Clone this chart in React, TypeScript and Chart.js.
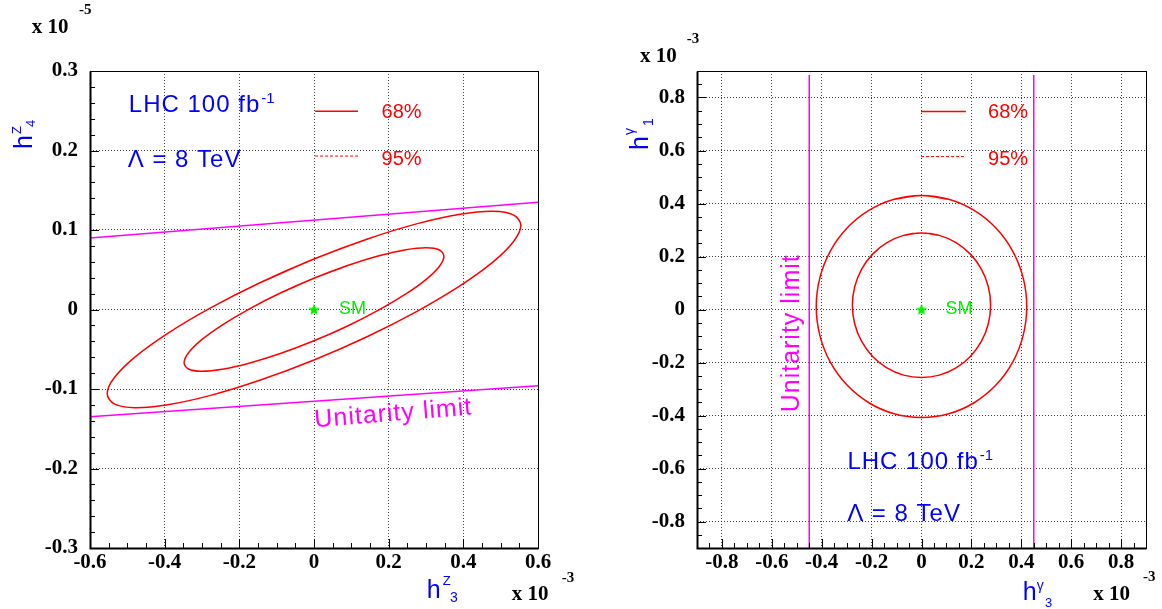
import React, { useEffect, useRef } from "react";
import { Chart, registerables } from "chart.js";

Chart.register(...registerables);

// ---------------- Left panel: h^Z_3 (x 10^-3) vs h^Z_4 (x 10^-5) ----------------
const leftXTickValues = [-0.6, -0.4, -0.2, 0, 0.2, 0.4, 0.6];
const leftXTickLabels = ["-0.6", "-0.4", "-0.2", "0", "0.2", "0.4", "0.6"];
const leftYTickValues = [-0.3, -0.2, -0.1, 0, 0.1, 0.2, 0.3];
const leftYTickLabels = ["-0.3", "-0.2", "-0.1", "0", "0.1", "0.2", "0.3"];

// outer (95%) contour (closed loop; first/last point repeat for a smooth join)
const leftOuterX = [0.1434, 0, -0.1434, -0.277, -0.3917, -0.4798, -0.5351, -0.554, -0.5351, -0.4798, -0.3917, -0.277, -0.1434, 0, 0.1434, 0.277, 0.3917, 0.4798, 0.5351, 0.554, 0.5351, 0.4798, 0.3917, 0.277, 0.1434, 0, -0.1434];
const leftOuterY = [0.0887, 0.0635, 0.0339, 0.002, -0.03, -0.0599, -0.0859, -0.1059, -0.1187, -0.1235, -0.1198, -0.108, -0.0887, -0.0635, -0.0339, -0.002, 0.03, 0.0599, 0.0859, 0.1059, 0.1187, 0.1235, 0.1198, 0.108, 0.0887, 0.0635, 0.0339];

// inner (68%) contour
const leftInnerX = [0.0901, 0, -0.0901, -0.174, -0.2461, -0.3014, -0.3361, -0.348, -0.3361, -0.3014, -0.2461, -0.174, -0.0901, 0, 0.0901, 0.174, 0.2461, 0.3014, 0.3361, 0.348, 0.3361, 0.3014, 0.2461, 0.174, 0.0901, 0, -0.0901];
const leftInnerY = [0.0553, 0.0393, 0.0207, 0.0005, -0.0196, -0.0383, -0.0545, -0.067, -0.0749, -0.0777, -0.0752, -0.0675, -0.0553, -0.0393, -0.0207, -0.0005, 0.0196, 0.0383, 0.0545, 0.067, 0.0749, 0.0777, 0.0752, 0.0675, 0.0553, 0.0393, 0.0207];

// unitarity limits
const leftUnitUpperX = [-0.6, 0.6];
const leftUnitUpperY = [0.09, 0.135];
const leftUnitLowerX = [-0.6, 0.6];
const leftUnitLowerY = [-0.135, -0.096];

// ---------------- Right panel: h^gamma_3 (x 10^-3) vs h^gamma_1 (x 10^-3) ----------------
const rightXTickValues = [-0.8, -0.6, -0.4, -0.2, 0, 0.2, 0.4, 0.6, 0.8];
const rightXTickLabels = ["-0.8", "-0.6", "-0.4", "-0.2", "0", "0.2", "0.4", "0.6", "0.8"];
const rightYTickValues = [-0.8, -0.6, -0.4, -0.2, 0, 0.2, 0.4, 0.6, 0.8];
const rightYTickLabels = ["-0.8", "-0.6", "-0.4", "-0.2", "0", "0.2", "0.4", "0.6", "0.8"];

const rightOuterX = [0.1092, 0, -0.1092, -0.211, -0.2984, -0.3655, -0.4076, -0.422, -0.4076, -0.3655, -0.2984, -0.211, -0.1092, 0, 0.1092, 0.211, 0.2984, 0.3655, 0.4076, 0.422, 0.4076, 0.3655, 0.2984, 0.211, 0.1092, 0, -0.1092];
const rightOuterY = [0.4157, 0.43, 0.4157, 0.3739, 0.3073, 0.2205, 0.1194, 0.011, -0.0974, -0.1985, -0.2853, -0.3519, -0.3937, -0.408, -0.3937, -0.3519, -0.2853, -0.1985, -0.0974, 0.011, 0.1194, 0.2205, 0.3073, 0.3739, 0.4157, 0.43, 0.4157];

const rightInnerX = [0.0717, 0, -0.0717, -0.1385, -0.1959, -0.2399, -0.2676, -0.277, -0.2676, -0.2399, -0.1959, -0.1385, -0.0717, 0, 0.0717, 0.1385, 0.1959, 0.2399, 0.2676, 0.277, 0.2676, 0.2399, 0.1959, 0.1385, 0.0717, 0, -0.0717];
const rightInnerY = [0.2797, 0.289, 0.2797, 0.2524, 0.209, 0.1525, 0.0867, 0.016, -0.0547, -0.1205, -0.177, -0.2204, -0.2477, -0.257, -0.2477, -0.2204, -0.177, -0.1205, -0.0547, 0.016, 0.0867, 0.1525, 0.209, 0.2524, 0.2797, 0.289, 0.2797];

const rightUnitLeftX = [-0.45, -0.45];
const rightUnitLeftY = [-0.9, 0.885];
const rightUnitRightX = [0.45, 0.45];
const rightUnitRightY = [-0.9, 0.885];

// Standard Model point
const smX = [0];
const smY = [0];

// ---------------- styling ----------------
const BLUE = "#0000ff";
const RED = "#ff0000";
const MAGENTA = "#ff00ff";
const GREEN = "#00ee00";
const SANS = "'Liberation Sans', Arial, Helvetica, sans-serif";
const SERIF = "'Liberation Serif', 'Times New Roman', Times, serif";

function pts(xs: number[], ys: number[]) {
  return xs.map((x, i) => ({ x, y: ys[i] }));
}

function lineDs(label: string, xs: number[], ys: number[], color: string, tension: number) {
  return {
    label,
    data: pts(xs, ys),
    borderColor: color,
    backgroundColor: color,
    borderWidth: 1.5,
    pointRadius: 0,
    pointHoverRadius: 0,
    tension,
    fill: false,
    showLine: true,
  };
}

function makeStar(r: number, color: string) {
  const c = document.createElement("canvas");
  const s = Math.ceil(r * 2 + 2);
  c.width = s;
  c.height = s;
  const g = c.getContext("2d")!;
  g.fillStyle = color;
  g.beginPath();
  for (let i = 0; i < 10; i++) {
    const ang = -Math.PI / 2 + (i * Math.PI) / 5;
    const rr = i % 2 === 0 ? r : r * 0.45;
    g.lineTo(s / 2 + rr * Math.cos(ang), s / 2 + rr * Math.sin(ang) + 0.5);
  }
  g.closePath();
  g.fill();
  return c;
}

function smDs() {
  return {
    label: "SM",
    data: pts(smX, smY),
    showLine: false,
    pointStyle: makeStar(6, GREEN),
    pointRadius: 6,
    pointHoverRadius: 6,
    borderWidth: 0,
    borderColor: GREEN,
    backgroundColor: GREEN,
  };
}

type Opts = { bold?: boolean; serif?: boolean; spacing?: number; align?: CanvasTextAlign; baseline?: CanvasTextBaseline };

function put(ctx: CanvasRenderingContext2D, s: string, x: number, y: number, size: number, color: string, o: Opts = {}) {
  ctx.save();
  ctx.font = `${o.bold ? "bold " : ""}${size}px ${o.serif ? SERIF : SANS}`;
  ctx.fillStyle = color;
  ctx.textAlign = o.align || "left";
  ctx.textBaseline = o.baseline || "alphabetic";
  (ctx as any).letterSpacing = `${o.spacing || 0}px`;
  ctx.fillText(s, x, y);
  const w = ctx.measureText(s).width;
  ctx.restore();
  return w;
}

type Part = { s: string; u: number; v: number; size: number };
function rotatedTitle(ctx: CanvasRenderingContext2D, ox: number, oy: number, parts: Part[]) {
  ctx.save();
  ctx.translate(ox, oy);
  ctx.rotate(-Math.PI / 2);
  parts.forEach((p) => put(ctx, p.s, p.u, p.v, p.size, BLUE));
  ctx.restore();
}

function seg(ctx: CanvasRenderingContext2D, x0: number, y0: number, x1: number, y1: number, color: string, w: number, dash: number[]) {
  ctx.save();
  ctx.strokeStyle = color;
  ctx.lineWidth = w;
  ctx.setLineDash(dash);
  ctx.beginPath();
  ctx.moveTo(x0, y0);
  ctx.lineTo(x1, y1);
  ctx.stroke();
  ctx.restore();
}

type Panel = {
  key: string;
  left: number;
  width: number;
  height: number;
  xMin: number;
  xMax: number;
  yMin: number;
  yMax: number;
  xTicks: number[];
  xLabels: string[];
  yTicks: number[];
  yLabels: string[];
  xMinor: number;
  xMajor: number;
  yMinor: number;
  yMajor: number;
  padTop: number;
  padRight: number;
  yAxisWidth: number;
  xAxisHeight: number;
  datasets: () => any[];
  annotate: (chart: any) => void;
};

function drawFrameAndTicks(chart: any, p: Panel) {
  const { ctx, chartArea: a } = chart;
  const xs = chart.scales.x;
  const ys = chart.scales.y;
  ctx.save();
  ctx.strokeStyle = "#000";
  ctx.lineWidth = 1;
  ctx.setLineDash([]);
  const n0 = Math.ceil(p.xMin / p.xMinor - 1e-6);
  const n1 = Math.floor(p.xMax / p.xMinor + 1e-6);
  for (let i = n0; i <= n1; i++) {
    const v = i * p.xMinor;
    const r = v / p.xMajor;
    const major = Math.abs(r - Math.round(r)) < 1e-6;
    const x = Math.round(xs.getPixelForValue(v)) + 0.5;
    ctx.beginPath();
    ctx.moveTo(x, a.bottom);
    ctx.lineTo(x, a.bottom - (major ? 9 : 5));
    ctx.stroke();
  }
  const m0 = Math.ceil(p.yMin / p.yMinor - 1e-6);
  const m1 = Math.floor(p.yMax / p.yMinor + 1e-6);
  for (let i = m0; i <= m1; i++) {
    const v = i * p.yMinor;
    const r = v / p.yMajor;
    const major = Math.abs(r - Math.round(r)) < 1e-6;
    const y = Math.round(ys.getPixelForValue(v)) + 0.5;
    ctx.beginPath();
    ctx.moveTo(a.left, y);
    ctx.lineTo(a.left + (major ? 9 : 5), y);
    ctx.stroke();
  }
  const L = Math.round(a.left) + 0.5;
  const T = Math.round(a.top) + 0.5;
  const R = Math.round(a.right) + 0.5;
  const B = Math.round(a.bottom) + 0.5;
  ctx.strokeRect(L, T, R - L, B - T);
  ctx.lineWidth = 2;
  ctx.beginPath();
  ctx.moveTo(L, T);
  ctx.lineTo(L, B);
  ctx.lineTo(R, B);
  ctx.stroke();
  ctx.restore();
}

const leftPanel: Panel = {
  key: "left",
  left: 0,
  width: 581,
  height: 609,
  xMin: -0.6,
  xMax: 0.6,
  yMin: -0.3,
  yMax: 0.3,
  xTicks: leftXTickValues,
  xLabels: leftXTickLabels,
  yTicks: leftYTickValues,
  yLabels: leftYTickLabels,
  xMinor: 0.05,
  xMajor: 0.2,
  yMinor: 0.02,
  yMajor: 0.1,
  padTop: 71,
  padRight: 43,
  yAxisWidth: 90,
  xAxisHeight: 61,
  datasets: () => [
    lineDs("95%", leftOuterX, leftOuterY, RED, 0.34),
    lineDs("68%", leftInnerX, leftInnerY, RED, 0.34),
    lineDs("Unitarity limit (upper)", leftUnitUpperX, leftUnitUpperY, MAGENTA, 0),
    lineDs("Unitarity limit (lower)", leftUnitLowerX, leftUnitLowerY, MAGENTA, 0),
    smDs(),
  ],
  annotate: (chart: any) => {
    const ctx = chart.ctx as CanvasRenderingContext2D;
    const X = (v: number) => chart.scales.x.getPixelForValue(v);
    const Y = (v: number) => chart.scales.y.getPixelForValue(v);
    // LHC text
    const w = put(ctx, "LHC 100 fb", X(-0.496), Y(0.249), 24, BLUE, { spacing: 1 });
    put(ctx, "-1", X(-0.496) + w + 1, Y(0.249) - 9, 15, BLUE);
    put(ctx, "Λ = 8 TeV", X(-0.499), Y(0.1795), 24, BLUE, { spacing: 1 });
    // legend
    seg(ctx, X(0.003), Y(0.2494), X(0.118), Y(0.2494), RED, 1.5, []);
    put(ctx, "68%", X(0.181), Y(0.248), 20, RED, { baseline: "middle" });
    seg(ctx, X(0.003), Y(0.193), X(0.118), Y(0.193), RED, 1, [3, 2]);
    put(ctx, "95%", X(0.181), Y(0.189), 20, RED, { baseline: "middle" });
    // SM
    put(ctx, "SM", X(0) + 25, Y(0), 18, GREEN, { baseline: "middle" });
    // Unitarity limit label
    ctx.save();
    ctx.translate(X(0.003), Y(-0.148));
    ctx.rotate((-4.6 * Math.PI) / 180);
    put(ctx, "Unitarity limit", 0, 0, 25, MAGENTA, { spacing: 1 });
    ctx.restore();
    // exponent labels
    put(ctx, "x 10", 31.7, 33, 21, "#000", { bold: true, serif: true });
    put(ctx, "-5", 79, 13.5, 15, "#000", { bold: true, serif: true });
    put(ctx, "x 10", 511.7, 600, 21, "#000", { bold: true, serif: true });
    put(ctx, "-3", 561.7, 581.7, 15, "#000", { bold: true, serif: true });
    // axis titles
    rotatedTitle(ctx, 32, 149, [
      { s: "h", u: 0, v: 0, size: 25 },
      { s: "Z", u: 15, v: -11, size: 13 },
      { s: "4", u: 22, v: 3, size: 13 },
    ]);
    put(ctx, "h", 426.7, 598, 25, BLUE);
    put(ctx, "Z", 442.7, 585, 13, BLUE);
    put(ctx, "3", 450, 601.7, 14, BLUE);
  },
};

const RX = 581;
const rightPanel: Panel = {
  key: "right",
  left: RX,
  width: 581,
  height: 609,
  xMin: -0.9,
  xMax: 0.9,
  yMin: -0.9,
  yMax: 0.9,
  xTicks: rightXTickValues,
  xLabels: rightXTickLabels,
  yTicks: rightYTickValues,
  yLabels: rightYTickLabels,
  xMinor: 0.05,
  xMajor: 0.2,
  yMinor: 0.05,
  yMajor: 0.2,
  padTop: 71,
  padRight: 16,
  yAxisWidth: 116,
  xAxisHeight: 61,
  datasets: () => [
    lineDs("95%", rightOuterX, rightOuterY, RED, 0.34),
    lineDs("68%", rightInnerX, rightInnerY, RED, 0.34),
    lineDs("Unitarity limit (left)", rightUnitLeftX, rightUnitLeftY, MAGENTA, 0),
    lineDs("Unitarity limit (right)", rightUnitRightX, rightUnitRightY, MAGENTA, 0),
    smDs(),
  ],
  annotate: (chart: any) => {
    const ctx = chart.ctx as CanvasRenderingContext2D;
    const X = (v: number) => chart.scales.x.getPixelForValue(v);
    const Y = (v: number) => chart.scales.y.getPixelForValue(v);
    // legend
    seg(ctx, X(-0.002), Y(0.747), X(0.178), Y(0.747), RED, 1.5, []);
    put(ctx, "68%", X(0.267), Y(0.745), 20, RED, { baseline: "middle" });
    seg(ctx, X(-0.002), Y(0.577), X(0.178), Y(0.577), RED, 1, [3, 2]);
    put(ctx, "95%", X(0.267), Y(0.565), 20, RED, { baseline: "middle" });
    // LHC text
    const w = put(ctx, "LHC 100 fb", X(-0.297), Y(-0.602), 24, BLUE, { spacing: 1 });
    put(ctx, "-1", X(-0.297) + w + 1, Y(-0.602) - 9, 15, BLUE);
    put(ctx, "Λ = 8 TeV", X(-0.298), Y(-0.797), 24, BLUE, { spacing: 1 });
    // SM
    put(ctx, "SM", X(0) + 24, Y(0), 18, GREEN, { baseline: "middle" });
    // Unitarity limit (vertical)
    ctx.save();
    ctx.translate(X(-0.49), Y(-0.388));
    ctx.rotate(-Math.PI / 2);
    put(ctx, "Unitarity limit", 0, 0, 25, MAGENTA, { spacing: 1 });
    ctx.restore();
    // exponents
    put(ctx, "x 10", 640 - RX, 62, 21, "#000", { bold: true, serif: true });
    put(ctx, "-3", 686.7 - RX, 43, 15, "#000", { bold: true, serif: true });
    put(ctx, "x 10", 1093.3 - RX, 600, 21, "#000", { bold: true, serif: true });
    put(ctx, "-3", 1143 - RX, 581, 15, "#000", { bold: true, serif: true });
    // titles
    rotatedTitle(ctx, 648 - RX, 150, [
      { s: "h", u: 0, v: 0, size: 25 },
      { s: "γ", u: 15, v: -14, size: 14 },
      { s: "1", u: 24, v: 5, size: 14 },
    ]);
    put(ctx, "h", 1022.7 - RX, 600, 25, BLUE);
    put(ctx, "γ", 1036.7 - RX, 590, 14, BLUE);
    put(ctx, "3", 1045 - RX, 606.7, 13, BLUE);
  },
};

function buildConfig(p: Panel): any {
  const tickFont = { family: SERIF, weight: "bold", size: 21 };
  const decor = {
    id: "decor_" + p.key,
    afterDatasetsDraw(chart: any) {
      drawFrameAndTicks(chart, p);
    },
    afterDraw(chart: any) {
      p.annotate(chart);
    },
  };
  return {
    type: "line",
    data: { datasets: p.datasets() },
    plugins: [decor],
    options: {
      responsive: false,
      maintainAspectRatio: false,
      animation: false,
      devicePixelRatio: 1,
      events: [],
      layout: { padding: { top: p.padTop, right: p.padRight, bottom: 0, left: 0 } },
      plugins: {
        legend: { display: false },
        tooltip: { enabled: false },
        title: { display: false },
      },
      scales: {
        x: {
          type: "linear",
          min: p.xMin,
          max: p.xMax,
          afterFit: (s: any) => {
            s.height = p.xAxisHeight;
          },
          afterBuildTicks: (s: any) => {
            s.ticks = p.xTicks.map((v) => ({ value: v }));
          },
          ticks: {
            callback: (_v: any, i: number) => p.xLabels[i],
            font: tickFont,
            color: "#000",
            padding: 2,
            maxRotation: 0,
            autoSkip: false,
          },
          grid: { color: "rgba(0,0,0,0.75)", lineWidth: 1, drawTicks: false },
          border: { display: false, dash: [1, 2] },
        },
        y: {
          type: "linear",
          min: p.yMin,
          max: p.yMax,
          afterFit: (s: any) => {
            s.width = p.yAxisWidth;
          },
          afterBuildTicks: (s: any) => {
            s.ticks = p.yTicks.map((v) => ({ value: v }));
          },
          ticks: {
            callback: (_v: any, i: number) => p.yLabels[i],
            font: tickFont,
            color: "#000",
            padding: 12,
            autoSkip: false,
          },
          grid: { color: "rgba(0,0,0,0.75)", lineWidth: 1, drawTicks: false },
          border: { display: false, dash: [1, 2] },
        },
      },
    },
  };
}

function PanelChart({ panel }: { panel: Panel }) {
  const ref = useRef<HTMLCanvasElement>(null);
  useEffect(() => {
    const chart = new Chart(ref.current as HTMLCanvasElement, buildConfig(panel));
    return () => chart.destroy();
  }, [panel]);
  return (
    <canvas
      ref={ref}
      width={panel.width}
      height={panel.height}
      style={{ position: "absolute", left: panel.left, top: 0, width: panel.width, height: panel.height }}
    />
  );
}

export default function App() {
  return (
    <div style={{ position: "absolute", left: 0, top: 0, width: 1162, height: 609, background: "#fff", overflow: "hidden" }}>
      <PanelChart panel={leftPanel} />
      <PanelChart panel={rightPanel} />
    </div>
  );
}
